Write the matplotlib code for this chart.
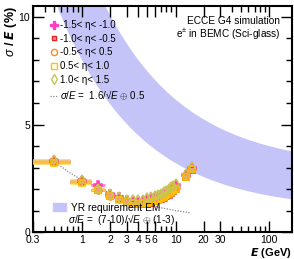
import matplotlib
matplotlib.use("Agg")
import matplotlib.pyplot as plt
import numpy as np
from matplotlib.patches import Patch
from matplotlib.lines import Line2D
from matplotlib.ticker import FixedLocator, NullFormatter

plt.rcParams['font.family'] = ['Liberation Sans', 'DejaVu Sans']
plt.rcParams['mathtext.fontset'] = 'custom'
plt.rcParams['mathtext.rm'] = 'Liberation Sans'
plt.rcParams['mathtext.it'] = 'Liberation Sans:italic'
plt.rcParams['mathtext.bf'] = 'Liberation Sans:bold'

# ---------------- data ----------------
energies = [0.5, 1, 1.5, 2, 2.5, 3, 3.5, 4, 4.5, 5, 5.5, 6, 6.5, 7, 7.5, 8, 8.5, 9, 9.5, 10, 13, 15]
e_halfwidth = 0.25

labels = ["-1.5< \u03b7< -1.0", "-1.0< \u03b7< -0.5", "-0.5< \u03b7< 0.5",
          "0.5< \u03b7< 1.0", "1.0< \u03b7< 1.5"]
res_eta1 = [3.32, 2.38, 2.20, 1.80, 1.62, 1.50, 1.44, 1.42, 1.44, 1.48, 1.53, 1.58, 1.64, 1.70, 1.77, 1.84, 1.92, 2.00, 2.09, 2.18, 2.66, 2.98]
res_eta2 = [3.25, 2.33, 1.96, 1.68, 1.53, 1.40, 1.33, 1.30, 1.31, 1.34, 1.38, 1.43, 1.48, 1.54, 1.60, 1.67, 1.74, 1.82, 1.90, 1.99, 2.55, 2.90]
res_eta3 = [3.28, 2.34, 1.98, 1.70, 1.55, 1.43, 1.36, 1.34, 1.35, 1.39, 1.43, 1.48, 1.54, 1.60, 1.66, 1.73, 1.81, 1.89, 1.97, 2.06, 2.60, 2.93]
res_eta4 = [3.20, 2.30, 1.95, 1.68, 1.52, 1.41, 1.34, 1.32, 1.34, 1.37, 1.41, 1.46, 1.52, 1.58, 1.64, 1.71, 1.78, 1.86, 1.94, 2.03, 2.58, 2.92]
res_eta5 = [3.36, 2.42, 2.02, 1.76, 1.62, 1.52, 1.48, 1.48, 1.52, 1.58, 1.63, 1.68, 1.74, 1.80, 1.86, 1.93, 2.00, 2.08, 2.16, 2.24, 2.72, 3.02]

# dotted fit curve
fit_E = [0.5, 0.75, 1, 1.5, 2, 3, 4, 5, 7, 10, 14.6]
fit_res = [3.29, 2.75, 2.43, 2.05, 1.82, 1.56, 1.40, 1.29, 1.14, 1.01, 0.90]

# YR requirement: sigma/E = (7-10)/sqrt(E) + (1-3)
yr_stoch = [7, 10]
yr_const = [1, 3]

xticks_major = [0.3, 1, 2, 3, 4, 5, 6, 10, 20, 30, 100]
xtick_labels = ["0.3", "1", "2", "3", "4", "5", "6", "10", "20", "30", "100"]
yticks_major = [0, 5, 10]

# ---------------- figure ----------------
fig = plt.figure(figsize=(2.94, 2.59), dpi=100)
ax = fig.add_axes([0.112, 0.103, 0.881, 0.874])
ax.set_xscale('log')
ax.set_xlim(0.3, 175)
ax.set_ylim(0, 10.5)

Eband = np.logspace(np.log10(0.3), np.log10(175), 300)
lo = yr_stoch[0] / np.sqrt(Eband) + yr_const[0]
hi = yr_stoch[1] / np.sqrt(Eband) + yr_const[1]
ax.fill_between(Eband, lo, hi, color='#c4c4f8', lw=0, zorder=1)

ax.plot(fit_E, fit_res, ls=(0, (1, 1.2)), color='#888888', lw=0.9, zorder=2)

series = [res_eta1, res_eta2, res_eta3, res_eta4, res_eta5]
colors = ['#ff3fbf', '#e8201e', '#ff8a20', '#ffc400', '#c9c455']
bar_colors = ['#ff66cc', '#e83030', '#ffa040', '#ffd040', '#f0d060']
markers = ['P', 's', 'o', 's', 'd']
mfc = ['#ff3fbf', '#ff9090', 'none', 'none', 'none']
ms = [6, 4, 5, 5, 5.5]

order = [0, 1, 2, 3, 4]
for i in order:
    ax.errorbar(energies, series[i], xerr=e_halfwidth, fmt='none',
                ecolor=bar_colors[i], elinewidth=2.0, alpha=0.8, zorder=3)
for i in order:
    ax.plot(energies, series[i], ls='none', marker=markers[i], ms=ms[i],
            mfc=mfc[i], mec=colors[i], mew=1.1, zorder=4)

# ticks
ax.xaxis.set_major_locator(FixedLocator(xticks_major))
ax.set_xticklabels(xtick_labels)
minor = [m * d for d in [0.1, 1, 10, 100] for m in range(1, 10)]
minor = [v for v in minor if 0.3 <= v <= 175 and v not in xticks_major]
ax.xaxis.set_minor_locator(FixedLocator(minor))
ax.xaxis.set_minor_formatter(NullFormatter())
ax.set_yticks(yticks_major)
ax.yaxis.set_minor_locator(FixedLocator(list(range(0, 11))))
ax.tick_params(which='both', direction='in', top=True, right=True,
               labelsize=7.5, width=1.0, pad=2)
ax.tick_params(which='major', length=8)
ax.tick_params(which='minor', length=4)
for s in ax.spines.values():
    s.set_linewidth(1.5)

ax.set_ylabel(r'$\sigma$ / $\boldsymbol{E}$ (%)', fontsize=9, fontweight='bold', loc='top')
ax.yaxis.set_label_coords(-0.055, 1.0)
ax.set_xlabel(r'$\boldsymbol{E}$ (GeV)', fontsize=8, fontweight='bold', loc='right', labelpad=1)

ax.text(0.955, 0.935, 'ECCE G4 simulation', transform=ax.transAxes,
        ha='right', va='center', fontsize=7.3)
ax.text(0.955, 0.875, 'e$^{\\pm}$ in BEMC (Sci-glass)', transform=ax.transAxes,
        ha='right', va='center', fontsize=7.3)

handles = []
for i in range(5):
    handles.append(Line2D([], [], ls='none', marker=markers[i], ms=ms[i] - 0.5,
                          mfc=mfc[i], mec=colors[i], mew=1.0))
handles.append(Line2D([], [], ls=(0, (1, 1.2)), color='#888888', lw=0.9))
leg_labels = labels + ['$\\sigma/E$ =  1.6/\u221a$E$ $\\oplus$ 0.5']
leg1 = ax.legend(handles, leg_labels, loc='upper left', bbox_to_anchor=(0.05, 0.955),
                 frameon=False, fontsize=7.0, handlelength=0.8, handletextpad=0.3,
                 labelspacing=0.38, borderaxespad=0)
ax.add_artist(leg1)

leg2 = ax.legend([Patch(color='#c4c4f8')], ['YR requirement EM'], loc='lower left',
                 bbox_to_anchor=(0.06, 0.068), frameon=False, fontsize=7.3,
                 handlelength=1.3, handleheight=0.8, handletextpad=0.5, borderaxespad=0)
ax.text(0.135, 0.055, '$\\sigma/E$ =  (7-10)/\u221a$E$ $\\oplus$ (1-3)', transform=ax.transAxes,
        ha='left', va='center', fontsize=7.2)

fig.savefig('out.png', dpi=100)
